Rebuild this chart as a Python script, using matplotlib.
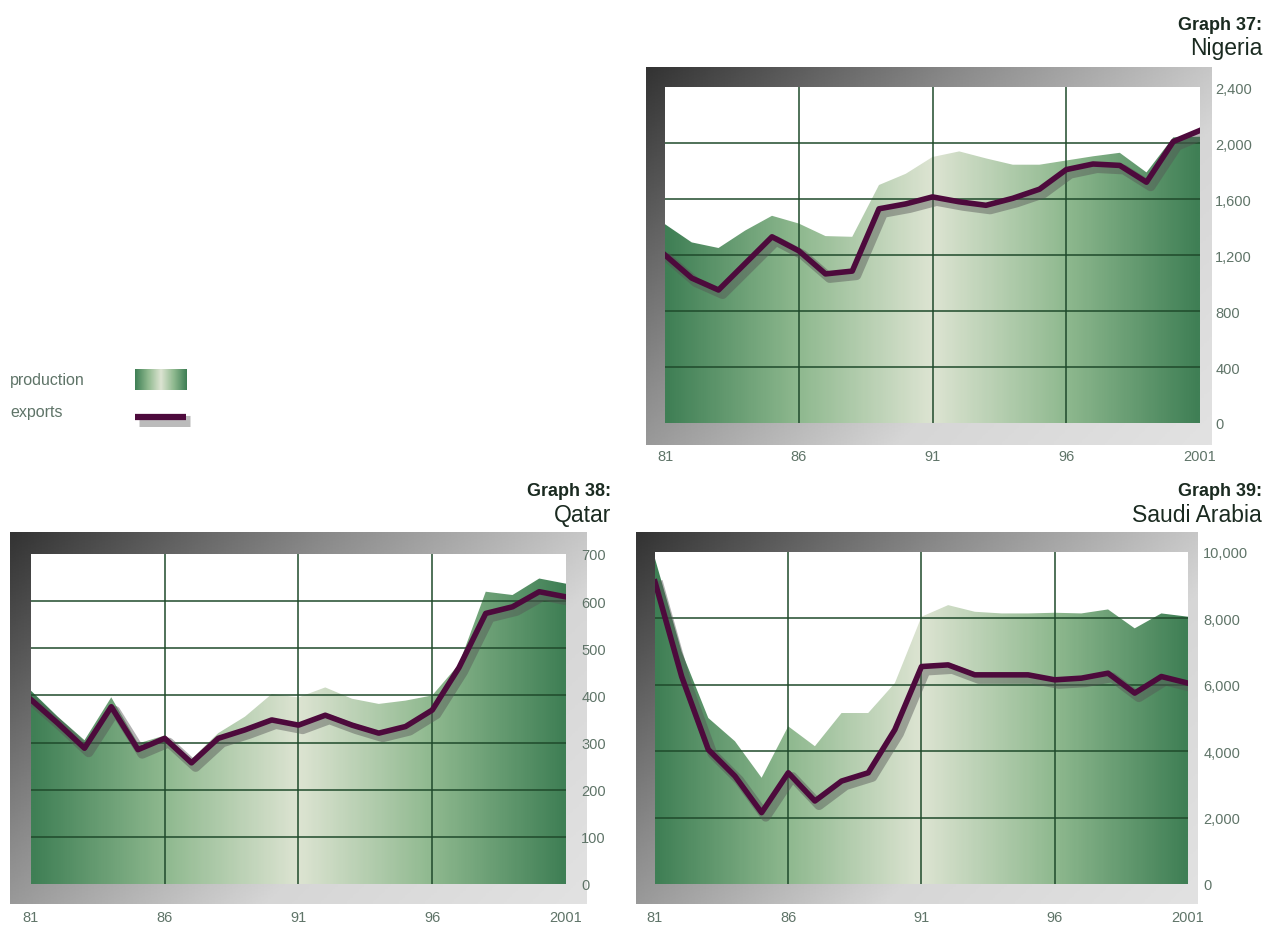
import numpy as np
import matplotlib
matplotlib.use("Agg")
import matplotlib.pyplot as plt
from matplotlib.colors import LinearSegmentedColormap
import matplotlib.patheffects as pe

# ====== data (thousand barrels / day) ======
years = list(range(1981, 2002))
x_ticks = [1981, 1986, 1991, 1996, 2001]
x_ticklabels = ["81", "86", "91", "96", "2001"]

nigeria_prod = [1420, 1290, 1250, 1375, 1480, 1425, 1335, 1330, 1700, 1780, 1900,
                1940, 1890, 1845, 1845, 1875, 1905, 1930, 1790, 2040, 2045]
nigeria_exp = [1200, 1035, 950, 1140, 1330, 1230, 1065, 1085, 1530, 1565, 1615,
               1580, 1555, 1605, 1670, 1810, 1850, 1840, 1720, 2010, 2090]
nigeria_yticks = [0, 400, 800, 1200, 1600, 2000, 2400]
nigeria_ylabels = ["0", "400", "800", "1,200", "1,600", "2,000", "2,400"]

qatar_prod = [410, 355, 305, 396, 298, 315, 265, 320, 355, 403, 396,
              417, 393, 382, 389, 400, 466, 620, 613, 648, 637]
qatar_exp = [391, 341, 288, 376, 285, 309, 257, 309, 327, 348, 337,
             358, 337, 320, 334, 369, 459, 574, 588, 620, 609]
qatar_yticks = [0, 100, 200, 300, 400, 500, 600, 700]
qatar_ylabels = ["0", "100", "200", "300", "400", "500", "600", "700"]

saudi_prod = [9800, 7000, 5000, 4300, 3200, 4750, 4150, 5150, 5150, 6050, 8050,
              8400, 8200, 8150, 8150, 8170, 8150, 8270, 7700, 8150, 8050]
saudi_exp = [9100, 6250, 4050, 3250, 2150, 3350, 2500, 3100, 3350, 4650, 6550,
             6600, 6300, 6300, 6300, 6150, 6200, 6350, 5750, 6250, 6050]
saudi_yticks = [0, 2000, 4000, 6000, 8000, 10000]
saudi_ylabels = ["0", "2,000", "4,000", "6,000", "8,000", "10,000"]

# ====== style ======
FONT = ["Liberation Sans", "DejaVu Sans"]
plt.rcParams["font.family"] = FONT
LINE_COL = "#4d0a3c"
GRID_COL = "#1f4a2b"
TICK_COL = "#5f7468"
TITLE_COL = "#1a2a20"

fill_cmap = LinearSegmentedColormap.from_list(
    "prod", ["#3f7f55", "#8fb98f", "#dde4d2", "#8fb98f", "#3f7f55"])
frame_cmap = LinearSegmentedColormap.from_list(
    "frame", ["#333333", "#8a8a8a", "#d6d6d6", "#e2e2e2"])

W, H = 1263, 928
fig = plt.figure(figsize=(W / 100, H / 100), dpi=100)


def px_axes(x0, y0, x1, y1):
    # pixel box (top-left origin) -> figure axes
    return fig.add_axes([x0 / W, 1 - y1 / H, (x1 - x0) / W, (y1 - y0) / H])


def frame(box):
    ax = px_axes(*box)
    u = np.linspace(0, 1, 200)
    gx, gy = np.meshgrid(u, u)
    ax.imshow(0.6 * gx + 0.4 * gy, cmap=frame_cmap, aspect="auto",
              extent=[0, 1, 1, 0], origin="upper")
    ax.set_axis_off()


def panel(frame_box, inner_box, prod, exp, yticks, ylabels, title, name, title_x, title_y):
    frame(frame_box)
    ax = px_axes(*inner_box)
    ax.set_facecolor("white")
    ymax = yticks[-1]

    poly = ax.fill_between(years, prod, 0, facecolor="none", edgecolor="none")
    grad = np.tile(np.linspace(0, 1, 300), (10, 1))
    img = ax.imshow(grad, cmap=fill_cmap, aspect="auto",
                    extent=[years[0], years[-1], 0, ymax], zorder=1)
    img.set_clip_path(poly.get_paths()[0], transform=ax.transData)

    for t in x_ticks[1:-1]:
        ax.axvline(t, color=GRID_COL, lw=1.1, zorder=2)
    for t in yticks[1:-1]:
        ax.axhline(t, color=GRID_COL, lw=1.1, zorder=2)

    ax.plot(years, exp, color=LINE_COL, lw=4, zorder=3, solid_joinstyle="round",
            path_effects=[pe.SimpleLineShadow(offset=(3, -3), shadow_color="#555555",
                                              alpha=0.45, linewidth=7),
                          pe.Normal()])

    ax.set_xlim(years[0], years[-1])
    ax.set_ylim(0, ymax)
    for s in ax.spines.values():
        s.set_visible(False)
    ax.yaxis.tick_right()
    ax.set_yticks(yticks)
    ax.set_yticklabels(ylabels)
    ax.set_xticks(x_ticks)
    ax.set_xticklabels(x_ticklabels)
    ax.tick_params(axis="y", length=0, pad=11, labelsize=10.5, labelcolor=TICK_COL)
    ax.tick_params(axis="x", length=0, pad=19, labelsize=10.5, labelcolor=TICK_COL)

    fig.text(title_x / W, 1 - title_y / H, title, ha="right", va="center",
             fontsize=13, fontweight="bold", color=TITLE_COL)
    fig.text(title_x / W, 1 - (title_y + 24) / H, name, ha="right", va="center",
             fontsize=16.5, color=TITLE_COL)


panel((646, 68, 1212, 446), (665, 88, 1200, 424), nigeria_prod, nigeria_exp,
      nigeria_yticks, nigeria_ylabels, "Graph 37:", "Nigeria", 1262, 25)
panel((10, 533, 587, 905), (31, 555, 566, 885), qatar_prod, qatar_exp,
      qatar_yticks, qatar_ylabels, "Graph 38:", "Qatar", 611, 492)
panel((636, 533, 1198, 905), (655, 553, 1188, 885), saudi_prod, saudi_exp,
      saudi_yticks, saudi_ylabels, "Graph 39:", "Saudi Arabia", 1262, 492)

# ====== legend ======
fig.text(10 / W, 1 - 380 / H, "production", ha="left", va="center",
         fontsize=11.5, color=TICK_COL)
fig.text(10 / W, 1 - 413 / H, "exports", ha="left", va="center",
         fontsize=11.5, color=TICK_COL)
lg = px_axes(135, 370, 187, 391)
lg.imshow(np.tile(np.linspace(0, 1, 100), (5, 1)), cmap=fill_cmap, aspect="auto")
lg.set_axis_off()
lx = px_axes(130, 408, 200, 428)
lx.plot([0.07, 0.8], [0.5, 0.5], color=LINE_COL, lw=4.5, solid_capstyle="butt",
        path_effects=[pe.SimpleLineShadow(offset=(3, -3), shadow_color="#555555",
                                          alpha=0.4, linewidth=8),
                      pe.Normal()])
lx.set_xlim(0, 1)
lx.set_ylim(0, 1)
lx.set_axis_off()

fig.savefig("out.png", dpi=100)
